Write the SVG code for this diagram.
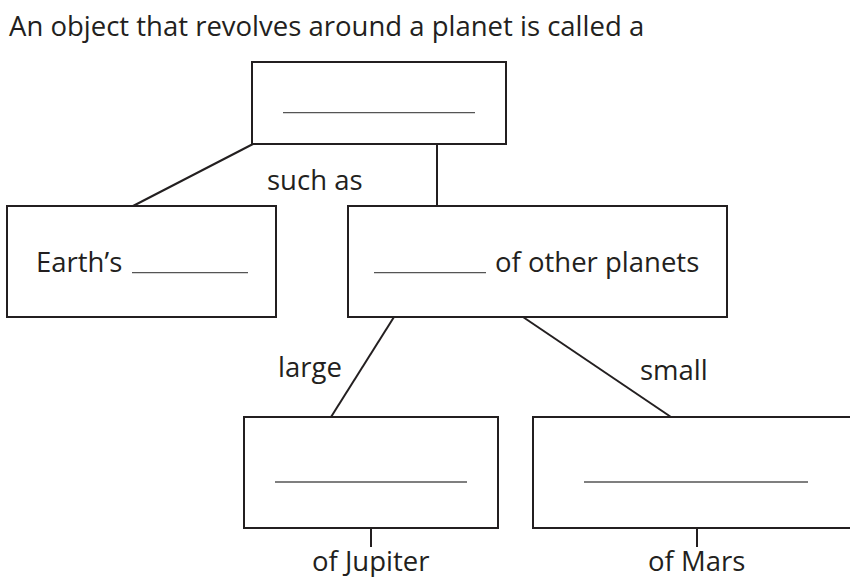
<svg xmlns="http://www.w3.org/2000/svg" width="850" height="577" viewBox="0 0 850 577">
<style>
.box{fill:#fff;stroke:#231f20;stroke-width:2}
.blank{stroke:#555;stroke-width:1.3}
.con{stroke:#231f20;stroke-width:2;fill:none}
text{font-family:"Open Sans","Noto Sans",sans-serif;font-size:27.5px;fill:#231f20}
</style>
<rect width="850" height="577" fill="#fff"/>
<text x="9" y="36">An object that revolves around a planet is called a</text>
<g id="connectors">
<line class="con" x1="253" y1="144" x2="133" y2="206"/>
<line class="con" x1="437" y1="144" x2="437" y2="206"/>
<line class="con" x1="394" y1="317" x2="331" y2="417"/>
<line class="con" x1="523" y1="317" x2="671" y2="417"/>
<line class="con" x1="371" y1="528" x2="371" y2="547"/>
<line class="con" x1="697" y1="528" x2="697" y2="547"/>
<text x="267" y="190">such as</text>
<text x="278" y="377">large</text>
<text x="640" y="380">small</text>
<text x="312" y="570.5">of Jupiter</text>
<text x="648" y="570.5">of Mars</text>
</g>
<g id="top">
<rect class="box" x="252" y="62" width="254" height="82"/>
<line class="blank" x1="283" y1="112.7" x2="475" y2="112.7"/>
</g>
<g id="earth">
<rect class="box" x="7" y="206" width="269" height="111"/>
<text x="36" y="272">Earth’s</text>
<line class="blank" x1="132" y1="272.7" x2="248" y2="272.7"/>
</g>
<g id="other">
<rect class="box" x="348" y="206" width="379" height="111"/>
<line class="blank" x1="374" y1="272.7" x2="486" y2="272.7"/>
<text x="495" y="272">of other planets</text>
</g>
<g id="jupiter">
<rect class="box" x="244" y="417" width="254" height="111"/>
<line class="blank" x1="275" y1="482" x2="467" y2="482"/>
</g>
<g id="mars">
<rect class="box" x="533" y="417" width="340" height="111"/>
<line class="blank" x1="584" y1="482" x2="808" y2="482"/>
</g>
</svg>
